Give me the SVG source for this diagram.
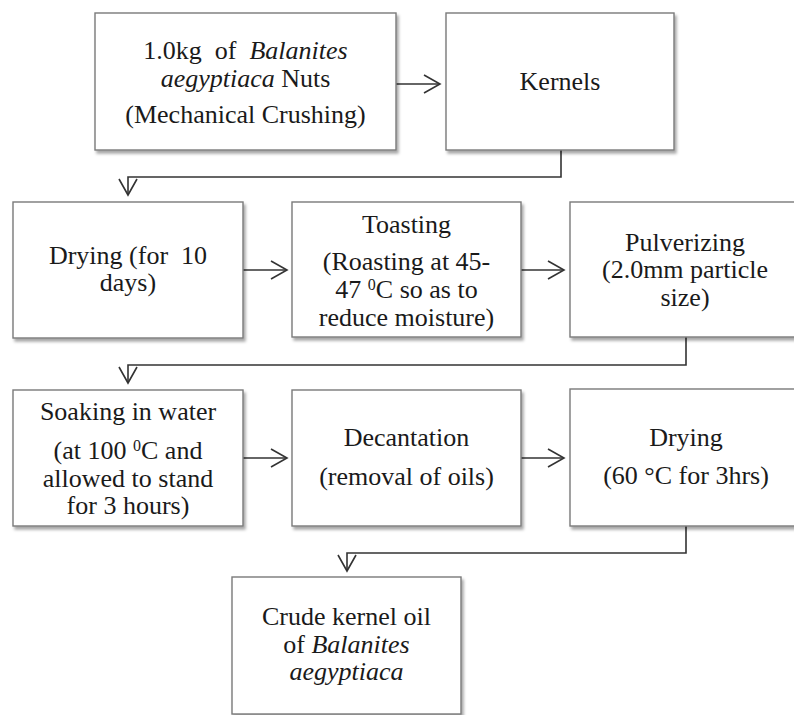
<svg xmlns="http://www.w3.org/2000/svg" width="794" height="715" viewBox="0 0 794 715">
<defs>
<filter id="sh" x="-5%" y="-5%" width="115%" height="115%">
<feDropShadow dx="2" dy="3" stdDeviation="1.5" flood-color="#000" flood-opacity="0.35"/>
</filter>
<marker id="ah" viewBox="0 0 20 20" refX="17" refY="10" markerWidth="20" markerHeight="20" markerUnits="userSpaceOnUse" orient="auto">
<path d="M1,1 L17,10 L1,19" fill="none" stroke="#333" stroke-width="1.6"/>
</marker>
</defs>
<style>
.box{fill:#fff;stroke:#7a7a7a;stroke-width:1.4;filter:url(#sh)}
.t text{font-size:26px;fill:#1a1a1a;text-anchor:middle;white-space:pre}
.it{font-style:italic}
.sup{font-size:16px}
.con{fill:none;stroke:#333;stroke-width:1.6}
</style>
<rect width="794" height="715" fill="#fff"/>
<g id="connectors">
<line class="con" x1="396" y1="84" x2="440" y2="84" marker-end="url(#ah)"/>
<polyline class="con" points="561,150 561,177 128,177 128,195" marker-end="url(#ah)"/>
<line class="con" x1="243" y1="270" x2="287" y2="270" marker-end="url(#ah)"/>
<line class="con" x1="521" y1="270" x2="564" y2="270" marker-end="url(#ah)"/>
<polyline class="con" points="686,337 686,365 128,365 128,383" marker-end="url(#ah)"/>
<line class="con" x1="243" y1="458" x2="287" y2="458" marker-end="url(#ah)"/>
<line class="con" x1="521" y1="458" x2="564" y2="458" marker-end="url(#ah)"/>
<polyline class="con" points="686,526 686,553 347,553 347,571" marker-end="url(#ah)"/>
</g>
<g class="t" font-family="'Liberation Serif', 'Times New Roman', serif">
<g id="n1">
<rect class="box" x="95" y="13" width="301" height="137"/>
<text x="245.5" y="59">1.0kg  of  <tspan class="it">Balanites</tspan></text>
<text x="245.5" y="87"><tspan class="it">aegyptiaca</tspan> Nuts</text>
<text x="245.5" y="123">(Mechanical Crushing)</text>
</g>
<g id="n2">
<rect class="box" x="446" y="13" width="228" height="137"/>
<text x="560" y="90">Kernels</text>
</g>
<g id="n3">
<rect class="box" x="13" y="202" width="230" height="136"/>
<text x="128" y="264">Drying (for  10</text>
<text x="128" y="291">days)</text>
</g>
<g id="n4">
<rect class="box" x="292" y="202" width="229" height="135"/>
<text x="406.5" y="233">Toasting</text>
<text x="406.5" y="270">(Roasting at 45-</text>
<text x="406.5" y="298">47 <tspan class="sup" dy="-8">0</tspan><tspan dy="8">C so as to</tspan></text>
<text x="406.5" y="326">reduce moisture)</text>
</g>
<g id="n5">
<rect class="box" x="570" y="202" width="232" height="135"/>
<text x="685" y="251">Pulverizing</text>
<text x="685" y="278">(2.0mm particle</text>
<text x="685" y="306">size)</text>
</g>
<g id="n6">
<rect class="box" x="13" y="390" width="230" height="136"/>
<text x="128" y="420">Soaking in water</text>
<text x="128" y="459">(at 100 <tspan class="sup" dy="-8">0</tspan><tspan dy="8">C and</tspan></text>
<text x="128" y="487">allowed to stand</text>
<text x="128" y="514">for 3 hours)</text>
</g>
<g id="n7">
<rect class="box" x="292" y="390" width="229" height="136"/>
<text x="406.5" y="446">Decantation</text>
<text x="406.5" y="485">(removal of oils)</text>
</g>
<g id="n8">
<rect class="box" x="570" y="389" width="232" height="137"/>
<text x="686" y="446">Drying</text>
<text x="686" y="484">(60 °C for 3hrs)</text>
</g>
<g id="n9">
<rect class="box" x="232" y="577" width="229" height="137"/>
<text x="346.5" y="625">Crude kernel oil</text>
<text x="346.5" y="653">of <tspan class="it">Balanites</tspan></text>
<text x="346.5" y="680" class="it">aegyptiaca</text>
</g>
</g>
</svg>
